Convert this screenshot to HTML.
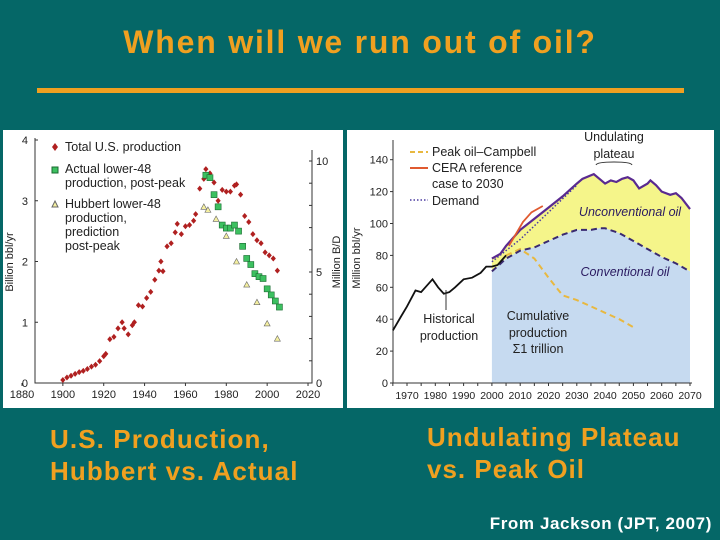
<!DOCTYPE html>
<html><head><meta charset="utf-8"><style>
body{margin:0;width:720px;height:540px;background:#056767;overflow:hidden;font-family:"Liberation Sans",sans-serif;position:relative}
.t{position:absolute;font-weight:bold;color:#f0a020}
</style></head><body>
<div class="t" style="left:0;width:720px;top:24px;text-align:center;font-size:32px;letter-spacing:1.8px">When will we run out of oil?</div>
<div style="position:absolute;left:37px;top:88px;width:647px;height:5px;background:#f0a020"></div>
<div class="t" style="left:50px;top:423px;font-size:26px;line-height:32px;letter-spacing:1.1px">U.S. Production,<br>Hubbert vs. Actual</div>
<div class="t" style="left:427px;top:421px;font-size:26px;line-height:32px;letter-spacing:1px">Undulating Plateau<br>vs. Peak Oil</div>
<div style="position:absolute;right:8px;top:514px;color:#fff;font-weight:bold;font-size:17px;letter-spacing:0.6px">From Jackson (JPT, 2007)</div>
<svg width="720" height="540" style="position:absolute;left:0;top:0" font-family="Liberation Sans, sans-serif">
<rect x="3" y="130" width="340" height="278" fill="#fff"/>
<rect x="347" y="130" width="367" height="278" fill="#fff"/>
<g id="L"></g><g id="R"></g>
</svg>
<script>
// Left chart data
const usYears=[1900,1902,1904,1906,1908,1910,1912,1914,1916,1918,1920,1921,1923,1925,1927,1929,1930,1932,1934,1935,1937,1939,1941,1943,1945,1947,1948,1949,1951,1953,1955,1956,1958,1960,1962,1964,1965,1967,1969,1970,1972,1974,1976,1978,1980,1982,1984,1985,1987,1989,1991,1993,1995,1997,1999,2001,2003,2005];
const usValues=[0.05,0.09,0.12,0.15,0.18,0.2,0.23,0.27,0.3,0.36,0.44,0.48,0.72,0.76,0.9,1.0,0.9,0.8,0.95,1.0,1.28,1.26,1.4,1.5,1.7,1.85,2.0,1.84,2.25,2.3,2.48,2.62,2.45,2.58,2.6,2.67,2.78,3.2,3.36,3.52,3.45,3.3,3.0,3.18,3.15,3.15,3.25,3.27,3.1,2.75,2.65,2.45,2.35,2.3,2.15,2.1,2.05,1.85];
const l48Years=[1970,1972,1974,1976,1978,1980,1982,1984,1986,1988,1990,1992,1994,1996,1998,2000,2002,2004,2006];
const l48Values=[3.42,3.38,3.1,2.9,2.6,2.55,2.55,2.6,2.5,2.25,2.05,1.95,1.8,1.75,1.72,1.55,1.45,1.35,1.25];
const hubYears=[1969,1971,1975,1980,1985,1990,1995,2000,2005];
const hubValues=[2.9,2.85,2.7,2.42,2.0,1.62,1.33,0.98,0.73];
const lxTicks=[1880,1900,1920,1940,1960,1980,2000,2020];
const lyTicks=[0,1,2,3,4];
const lyRTicks=[0,5,10];
// Right chart data
const histYears=[1965,1968,1970,1973,1975,1977,1979,1981,1983,1985,1987,1990,1993,1996,1998,2000,2002,2004,2005];
const histValues=[33,42,48,58,57,61,65,60,56,57,60,65,66,69,73,73,74,78,80];
const topYears=[2000,2003,2005,2010,2015,2020,2025,2030,2032,2036,2038,2040,2042,2044,2046,2048,2050,2052,2055,2056,2058,2060,2063,2065,2067,2070];
const topValues=[78,81,86,96,103,110,117,125,128,131,128,125,127,126,128,129,127,122,125,127,124,120,118,119,116,109];
const convYears=[2000,2005,2010,2015,2020,2025,2030,2035,2038,2040,2045,2050,2055,2060,2065,2070];
const convValues=[70,78,83,85,89,93,96,96,97,97,94,89,84,79,75,70];
const campYears=[2005,2010,2015,2020,2025,2030,2035,2040,2045,2050];
const campValues=[80,84,78,66,55,52,48,44,40,35];
const ceraYears=[2006,2009,2011,2014,2018];
const ceraValues=[86,95,101,107,111];
const demYears=[2000,2010,2020,2030];
const demValues=[76,90,107,124];
const rxTicks=[1970,1980,1990,2000,2010,2020,2030,2040,2050,2060,2070];
const ryTicks=[0,20,40,60,80,100,120,140];

const NS="http://www.w3.org/2000/svg";
function mk(p,t,a){const e=document.createElementNS(NS,t);for(const k in a)e.setAttribute(k,a[k]);p.appendChild(e);return e;}
function tx(p,x,y,s,o){const e=mk(p,'text',Object.assign({x:x,y:y,'font-size':11,fill:'#222'},o||{}));e.textContent=s;return e;}

const L=document.getElementById('L');
const lx=y=>22+(y-1880)*2.043, ly=v=>383-v*60.75, lyr=v=>383-v*22.2;
let e=mk(L,'path',{d:`M35 138V383H312V150`,fill:'none',stroke:'#333','stroke-width':1});


lxTicks.forEach(t=>{const g=tx(L,lx(t),398,t,{'text-anchor':'middle'});mk(L,'line',{x1:lx(t),x2:lx(t),y1:383,y2:386,stroke:'#333'});});
lyTicks.forEach(t=>{const g=tx(L,28,ly(t)+4,t,{'text-anchor':'end'});mk(L,'line',{x1:35,x2:38,y1:ly(t),y2:ly(t),stroke:'#333'});});
for(let i=0;i<=10;i++)mk(L,'line',{x1:309,x2:312,y1:lyr(i),y2:lyr(i),stroke:'#333'});
lyRTicks.forEach(t=>{const g=tx(L,316,lyr(t)+4,t);});
e=tx(L,0,0,'Billion bbl/yr',{transform:'translate(13,262) rotate(-90)','text-anchor':'middle'});

e=tx(L,0,0,'Million B/D',{transform:'translate(340,262) rotate(-90)','text-anchor':'middle'});

hubYears.forEach((y,i)=>{const x=lx(y),v=ly(hubValues[i]);const p=mk(L,'path',{d:`M${x} ${v-3}L${x+3} ${v+2.5}L${x-3} ${v+2.5}Z`,fill:'#f5f0a0',stroke:'#666','stroke-width':0.6});});
usYears.forEach((y,i)=>{const x=lx(y),v=ly(usValues[i]);const p=mk(L,'path',{d:`M${x} ${v-3}L${x+2.6} ${v}L${x} ${v+3}L${x-2.6} ${v}Z`,fill:'#b02020'});});
l48Years.forEach((y,i)=>{const x=lx(y),v=ly(l48Values[i]);const p=mk(L,'rect',{x:x-3,y:v-3,width:6,height:6,fill:'#3cc060',stroke:'#1a6a30','stroke-width':0.6});});
mk(L,'path',{d:'M55 143L58 147L55 151L52 147Z',fill:'#b02020'});
mk(L,'rect',{x:52,y:167,width:6,height:6,fill:'#3cc060',stroke:'#1a6a30'});
mk(L,'path',{d:'M55 201L58 207L52 207Z',fill:'#f5f0a0',stroke:'#666'});
[['Total U.S. production',151],['Actual lower-48',173],['production, post-peak',187],['Hubbert lower-48',208],['production,',222],['prediction',236],['post-peak',250]].forEach(a=>{const g=tx(L,65,a[1],a[0],{'font-size':12.5});});

const R=document.getElementById('R');
const rx=y=>407+(y-1970)*2.83, ry=v=>383-v*1.595;
const pts=(ys,vs)=>ys.map((y,i)=>`${rx(y).toFixed(1)},${ry(vs[i]).toFixed(1)}`).join(' ');
e=mk(R,'polygon',{points:pts(topYears,topValues)+' '+pts(convYears.slice().reverse(),convValues.slice().reverse()),fill:'#f5f58a'});

e=mk(R,'polygon',{points:pts(convYears,convValues)+` ${rx(2070)},383 ${rx(2000)},383`,fill:'#c6daf0'});

e=mk(R,'path',{d:`M393 140V383H${rx(2070)+2}`,fill:'none',stroke:'#333'});

for(let y=1965;y<=2070;y+=5)mk(R,'line',{x1:rx(y),x2:rx(y),y1:383,y2:386,stroke:'#333'});
rxTicks.forEach(t=>{const g=tx(R,rx(t),399,t,{'text-anchor':'middle','font-size':10.5});});
ryTicks.forEach(t=>{mk(R,'line',{x1:390,x2:393,y1:ry(t),y2:ry(t),stroke:'#333'});const g=tx(R,388,ry(t)+4,t,{'text-anchor':'end'});});
e=tx(R,0,0,'Million bbl/yr',{transform:'translate(360,258) rotate(-90)','text-anchor':'middle'});

e=mk(R,'polyline',{points:pts(campYears,campValues),fill:'none',stroke:'#e8b840','stroke-width':2,'stroke-dasharray':'6 4'});

e=mk(R,'polyline',{points:pts(convYears,convValues),fill:'none',stroke:'#3a2a70','stroke-width':2,'stroke-dasharray':'6 4'});

e=mk(R,'polyline',{points:pts(topYears,topValues),fill:'none',stroke:'#5a2a90','stroke-width':2.2});

e=mk(R,'polyline',{points:pts(demYears,demValues),fill:'none',stroke:'#4a3aa0','stroke-width':1.5,'stroke-dasharray':'1.5 2'});

e=mk(R,'polyline',{points:pts(ceraYears,ceraValues),fill:'none',stroke:'#e05a30','stroke-width':1.8});

e=mk(R,'polyline',{points:pts(histYears,histValues),fill:'none',stroke:'#111','stroke-width':1.8});

mk(R,'line',{x1:410,x2:428,y1:152,y2:152,stroke:'#e8b840','stroke-width':2,'stroke-dasharray':'5 3'});
mk(R,'line',{x1:410,x2:428,y1:168,y2:168,stroke:'#e05a30','stroke-width':2});
mk(R,'line',{x1:410,x2:428,y1:200,y2:200,stroke:'#4a3aa0','stroke-width':1.5,'stroke-dasharray':'1.5 2'});
[['Peak oil–Campbell',156],['CERA reference',172],['case to 2030',188],['Demand',205]].forEach(a=>{const g=tx(R,432,a[1],a[0],{'font-size':12.5});});
[['Undulating',141,614],['plateau',158,614],['Historical',323,449],['production',340,449],['Cumulative',320,538],['production',337,538],['Σ1 trillion',353,538]].forEach(a=>{const g=tx(R,a[2],a[1],a[0],{'font-size':12.5,'text-anchor':'middle'});});
mk(R,'path',{d:'M596 165Q597 162 614 162Q631 162 632 165',fill:'none',stroke:'#333'});
mk(R,'line',{x1:446,x2:446,y1:290,y2:310,stroke:'#333'});
[['Unconventional oil',630,216],['Conventional oil',625,276]].forEach(a=>{const g=tx(R,a[1],a[2],a[0],{'font-size':12.5,'font-style':'italic','text-anchor':'middle',fill:'#2a1a60'});});
</script>
</body></html>
